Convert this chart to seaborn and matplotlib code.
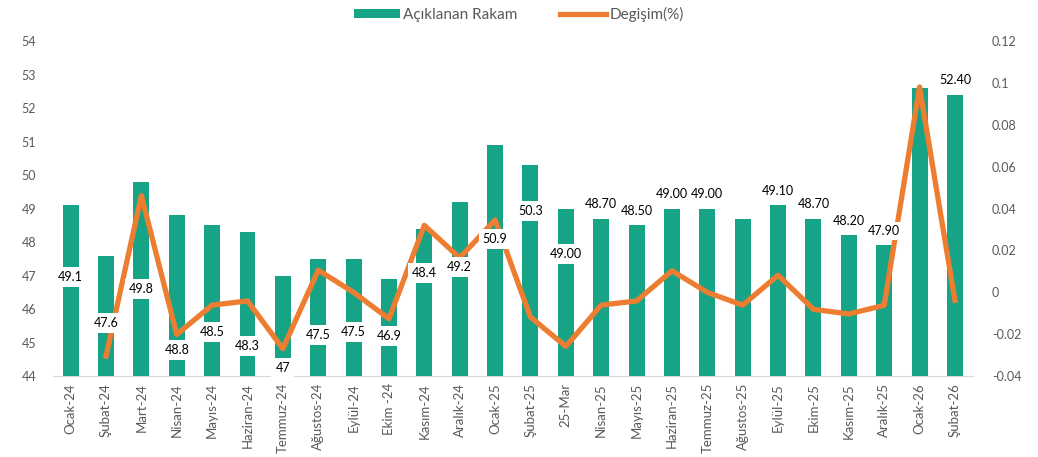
import numpy as np
import pandas as pd
import matplotlib
matplotlib.use("Agg")
import matplotlib.pyplot as plt
import seaborn as sns
from matplotlib.patches import Patch
from matplotlib.lines import Line2D
from matplotlib.ticker import FuncFormatter

# Données
months = ["Ocak-24", "Şubat-24", "Mart-24", "Nisan-24", "Mayıs-24", "Haziran-24",
          "Temmuz-24", "Ağustos-24", "Eylül-24", "Ekim -24", "Kasım-24", "Aralık-24",
          "Ocak-25", "Şubat-25", "25-Mar", "Nisan-25", "Mayıs-25", "Haziran-25",
          "Temmuz-25", "Ağustos-25", "Eylül-25", "Ekim-25", "Kasım-25", "Aralık-25",
          "Ocak-26", "Şubat-26"]
rakam = [49.1, 47.6, 49.8, 48.8, 48.5, 48.3, 47.0, 47.5, 47.5, 46.9, 48.4, 49.2,
         50.9, 50.3, 49.0, 48.7, 48.5, 49.0, 49.0, 48.7, 49.1, 48.7, 48.2, 47.9,
         52.6, 52.4]
degisim = [np.nan, -0.0305, 0.0462, -0.0201, -0.0061, -0.0041, -0.0269, 0.0106,
           0.0, -0.0126, 0.0320, 0.0165, 0.0346, -0.0118, -0.0258, -0.0061,
           -0.0041, 0.0103, 0.0, -0.0061, 0.0082, -0.0081, -0.0103, -0.0062,
           0.0981, -0.0038]
etiketler = ["49.1", "47.6", "49.8", "48.8", "48.5", "48.3", "47", "47.5", "47.5",
             "46.9", "48.4", "49.2", "50.9", "50.3", "49.00", "48.70", "48.50",
             "49.00", "49.00", "", "49.10", "48.70", "48.20", "47.90", "", "52.40"]

# Position des étiquettes placées dans les barres (axe de gauche)
etiquette_y = [46.96, 45.58, 46.6, 44.78, 45.31, 44.9, 44.24, 45.22, 45.31,
               45.19, 47.07, 47.25, 48.09, 48.93, 47.64]

teal = "#16A386"
orange = "#ED7D31"
gris = "#595959"

plt.rcParams['font.family'] = ['Lato', 'DejaVu Sans']

df = pd.DataFrame({"mois": months, "rakam": rakam, "degisim": degisim})

fig = plt.figure(figsize=(10.38, 4.57), dpi=100)
ax = fig.add_axes([0.051, 0.177, 0.886, 0.733])

sns.barplot(data=df, x="mois", y="rakam", color=teal, saturation=1,
            width=0.45, ax=ax, zorder=2)
ax.set_ylim(44, 54)
ax.set_yticks(range(44, 55))
ax.set_xlim(-0.5, len(months) - 0.5)

ax2 = ax.twinx()
sns.lineplot(x=np.arange(len(months)), y=df["degisim"], color=orange,
             linewidth=3.8, ax=ax2, zorder=3)
ax2.lines[0].set_solid_joinstyle('round')
ax2.set_ylim(-0.04, 0.12)
ax2.set_yticks(np.arange(-0.04, 0.121, 0.02))
ax2.yaxis.set_major_formatter(FuncFormatter(lambda v, p: "0" if abs(v) < 1e-9 else f"{v:g}"))

for a in (ax, ax2):
    for s in a.spines.values():
        s.set_visible(False)
    a.set_xlabel("")
    a.set_ylabel("")
    a.tick_params(length=0, labelsize=9, labelcolor=gris)
ax.spines["bottom"].set_visible(True)
ax.spines["bottom"].set_color("#D9D9D9")
ax.tick_params(axis="y", pad=12)
ax2.tick_params(axis="y", pad=14)
ax.set_xticks(range(len(months)))
ax.set_xticklabels(months, rotation=90, fontsize=9.5, color=gris)
ax.tick_params(axis="x", pad=5)

# Étiquettes de données
for i, lab in enumerate(etiketler):
    if not lab:
        continue
    if i < len(etiquette_y):
        ax2.text(i, etiquette_y[i], lab, transform=ax.transData, ha="center",
                 va="center", fontsize=9, color="black", zorder=5,
                 bbox=dict(facecolor="white", edgecolor="none", pad=3))
    else:
        ax2.annotate(lab, xy=(i, rakam[i]), xycoords=ax.transData,
                     xytext=(0, 10.5), textcoords="offset points", ha="center",
                     va="center", fontsize=9, color="black", zorder=5,
                     bbox=dict(facecolor="white", edgecolor="none", pad=2))

handles = [Patch(facecolor=teal, edgecolor="none"),
           Line2D([0], [0], color=orange, linewidth=3.8)]
fig.legend(handles, ["Açıklanan Rakam", "Degişim(%)"], loc="upper center",
           bbox_to_anchor=(0.5, 1.015), ncol=2, frameon=False, fontsize=11,
           labelcolor=gris, handlelength=3.0, handleheight=0.5,
           handletextpad=0.2, columnspacing=2.8)

fig.savefig("out.png", dpi=100)
